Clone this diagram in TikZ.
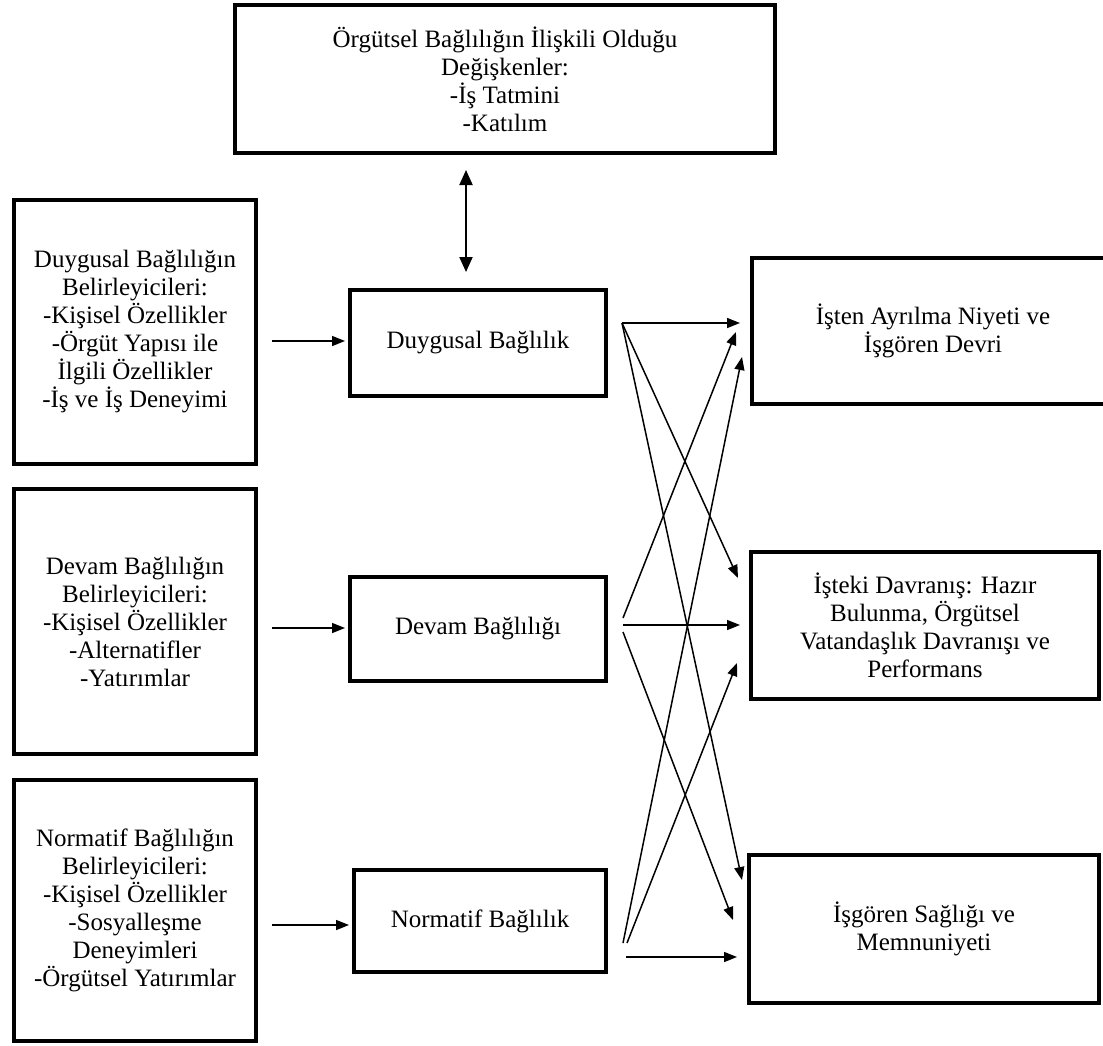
\documentclass[tikz,border=0pt]{standalone}
\usepackage{fontspec}
\setmainfont{Liberation Serif}
\usetikzlibrary{arrows.meta}

\begin{document}
\begin{tikzpicture}[x=1pt,y=-1pt,
  txt/.style={font=\fontsize{25}{28}\selectfont, align=center},
  box/.style={txt, draw, line width=4pt, inner sep=0pt},
  link/.style={line width=1.5pt, -{Triangle[length=13pt,width=10pt]}},
  dbl/.style={line width=2pt, {Triangle[length=15pt,width=13pt]}-{Triangle[length=15pt,width=13pt]}},
]
\useasboundingbox (0,0) rectangle (1103,1045);
\fill[white] (0,0) rectangle (1103,1045);
\begin{scope}
\clip (0,0) rectangle (1103,1045);

% correlates of commitment
\node[box, minimum width=540pt, minimum height=148pt] (top) at (505,79)
  {Örgütsel Bağlılığın İlişkili Olduğu\\Değişkenler:\\-İş Tatmini\\-Katılım};

% antecedents
\node[box, minimum width=242pt, minimum height=264pt] (lb1) at (135,332)
  {Duygusal Bağlılığın\\Belirleyicileri:\\-Kişisel Özellikler\\-Örgüt Yapısı ile\\İlgili Özellikler\\-İş ve İş Deneyimi};
\node[box, minimum width=242pt, minimum height=265pt] (lb2) at (135,621.5)
  {Devam Bağlılığın\\Belirleyicileri:\\-Kişisel Özellikler\\-Alternatifler\\-Yatırımlar};
\node[box, minimum width=242pt, minimum height=261pt] (lb3) at (135,910)
  {Normatif Bağlılığın\\Belirleyicileri:\\-Kişisel Özellikler\\-Sosyalleşme\\Deneyimleri\\-Örgütsel Yatırımlar};

% commitment components
\node[box, minimum width=256pt, minimum height=106pt] (mb1) at (478,343) {Duygusal Bağlılık};
\node[box, minimum width=256pt, minimum height=104pt] (mb2) at (478,629) {Devam Bağlılığı};
\node[box, minimum width=252pt, minimum height=102pt] (mb3) at (480,921) {Normatif Bağlılık};

% consequences
\node[box, minimum width=362pt, minimum height=146pt] (rb1) at (933,331)
  {İşten Ayrılma Niyeti ve\\İşgören Devri};
\node[box, minimum width=348pt, minimum height=147pt] (rb2) at (925,625)
  {İşteki Davranış: Hazır\\Bulunma, Örgütsel\\Vatandaşlık Davranışı ve\\Performans};
\node[box, minimum width=350pt, minimum height=148pt] (rb3) at (924,929)
  {İşgören Sağlığı ve\\Memnuniyeti};
\end{scope}

% two-way link between correlates and affective commitment
\coordinate (ax) at (466,0);
\draw[dbl, shorten <=15pt, shorten >=16pt] (top.south -| ax) -- (mb1.north -| ax);

% antecedents to components
\draw[link, shorten <=14pt, shorten >=3pt] (lb1.east |- 0,341) -- (mb1.west |- 0,341);
\draw[link, shorten <=14pt, shorten >=3pt] (lb2.east |- 0,628) -- (mb2.west |- 0,628);
\draw[link, shorten <=14pt, shorten >=3pt] (lb3.east |- 0,925) -- (mb3.west |- 0,925);

% start points beside the components
\coordinate (s1)  at (622,323);
\coordinate (s2u) at (623,618);
\coordinate (s2)  at (623,625);
\coordinate (s2d) at (623,632);
\coordinate (s3a) at (623,943);
\coordinate (s3b) at (627,943);
\coordinate (s3c) at (626,957);

% end points beside the consequences
\coordinate (t11) at (740,323);
\coordinate (t12) at (736,332);
\coordinate (t13) at (742,357);
\coordinate (t21) at (738,578);
\coordinate (t22) at (740,625);
\coordinate (t23) at (737,663);
\coordinate (t31) at (742,880);
\coordinate (t32) at (733,920);
\coordinate (t33) at (737,957);

\draw[link] (s1) -- (t11);
\draw[link] (s1) -- (t21);
\draw[link] (s1) -- (t31);
\draw[link] (s2u) -- (t12);
\draw[link] (s2) -- (t22);
\draw[link] (s2d) -- (t32);
\draw[link] (s3a) -- (t13);
\draw[link] (s3b) -- (t23);
\draw[link] (s3c) -- (t33);
\end{tikzpicture}
\end{document}
